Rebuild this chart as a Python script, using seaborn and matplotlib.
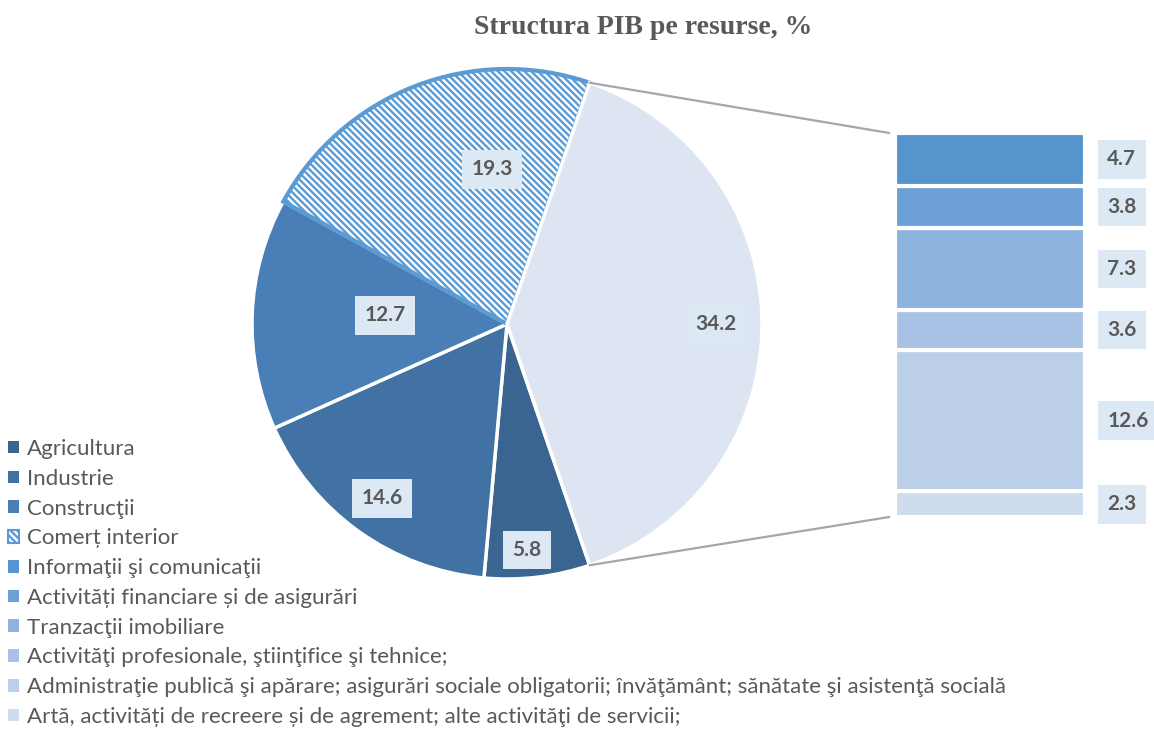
import numpy as np
import matplotlib
matplotlib.use("Agg")
import matplotlib.pyplot as plt
from matplotlib.patches import Patch, ConnectionPatch
import seaborn as sns

# data
pie_labels = ["Agricultura", "Industrie", "Construcţii", "Comerț interior", "Alte"]
pie_values = [5.8, 14.6, 12.7, 19.3, 34.2]
bar_labels = [
    "Informaţii şi comunicaţii",
    "Activități financiare și de asigurări",
    "Tranzacţii imobiliare",
    "Activităţi profesionale, ştiinţifice şi tehnice;",
    "Administraţie publică şi apărare; asigurări sociale obligatorii; învăţământ; sănătate şi asistenţă socială",
    "Artă, activități de recreere și de agrement; alte activităţi de servicii;",
]
bar_values = [4.7, 3.8, 7.3, 3.6, 12.6, 2.3]

pie_colors = ["#3A6590", "#4272A3", "#4A7EB6", "#5B9BD5", "#DEE5F2"]
bar_colors = ["#5594CC", "#6CA0D7", "#8EB3DE", "#A8C1E4", "#BBCFE8", "#CFDCEE"]
hatch_blue = "#5B9BD5"
text_grey = "#595959"
box_fill = "#DDE8F5"
hatch = "\\" * 5

sns.set_theme(style="white")
plt.rcParams["font.family"] = ["Lato", "DejaVu Sans"]
plt.rcParams["hatch.linewidth"] = 1.7
plt.rcParams["hatch.color"] = hatch_blue

W, H = 1154, 729
fig = plt.figure(figsize=(W / 100, H / 100), dpi=100)

# pie
cx, cy, R = 507, 324, 255
ax1 = fig.add_axes([(cx - R) / W, (H - cy - R) / H, 2 * R / W, 2 * R / H])
total = sum(pie_values)
start = -pie_values[-1] / total * 180
wedges, _ = ax1.pie(pie_values, colors=pie_colors, startangle=start, counterclock=False,
                    radius=1, wedgeprops=dict(edgecolor="white", linewidth=2.5))
ax1.set_xlim(-1, 1)
ax1.set_ylim(-1, 1)
ax1.axis("off")

w = wedges[3]
w.set_facecolor("white")
w.set_edgecolor(hatch_blue)
w.set_hatch(hatch)
w.set_linewidth(3)

label_r = [0.89, 0.84, 0.48, 0.61, 0.82]
label_da = [-1.8, 0, -1.7, -15.6, 0]
for wd, v, r, da in zip(wedges, pie_values, label_r, label_da):
    a = np.deg2rad((wd.theta1 + wd.theta2) / 2 + da)
    ax1.text(r * np.cos(a), r * np.sin(a), f"{v:.1f}", ha="center", va="center",
             fontsize=15, fontweight="bold", color=text_grey,
             bbox=dict(boxstyle="square,pad=0.45", fc=box_fill, ec="none"))

# bar of pie
bx0, bx1, by0, by1 = 895, 1085, 133, 517
ax2 = fig.add_axes([bx0 / W, (H - by1) / H, (bx1 - bx0) / W, (by1 - by0) / H])
bar_total = sum(bar_values)
bottom = 0
for v, c in zip(bar_values[::-1], bar_colors[::-1]):
    ax2.bar(0, v, width=1, bottom=bottom, color=c, edgecolor="white", linewidth=3)
    ax2.annotate(f"{v:.1f}", xy=(0.5, bottom + v / 2), xytext=(16, 0),
                 textcoords="offset points", ha="left", va="center",
                 fontsize=15, fontweight="bold", color=text_grey, annotation_clip=False,
                 bbox=dict(boxstyle="square,pad=0.45", fc=box_fill, ec="none"))
    bottom += v
ax2.set_xlim(-0.5, 0.5)
ax2.set_ylim(0, bar_total)
ax2.axis("off")

# connector lines
a_top = np.deg2rad(-start)
for ya, yb in [(np.sin(a_top), bar_total), (-np.sin(a_top), 0)]:
    con = ConnectionPatch(xyA=(np.cos(a_top), ya), coordsA=ax1.transData,
                          xyB=(-0.53, yb), coordsB=ax2.transData,
                          color="#A6A6A6", linewidth=1.6)
    fig.add_artist(con)

# title
fig.text(643 / W, 1 - 27 / H, "Structura PIB pe resurse, %", ha="center", va="center",
         family="Liberation Serif", fontweight="bold", fontsize=20, color=text_grey)

# legend
handles = []
for lab, c in zip(pie_labels[:4], pie_colors[:4]):
    if lab == "Comerț interior":
        handles.append(Patch(facecolor="white", edgecolor=hatch_blue, hatch=hatch, linewidth=1.5))
    else:
        handles.append(Patch(facecolor=c, edgecolor="none"))
for c in bar_colors:
    handles.append(Patch(facecolor=c, edgecolor="none"))
leg = fig.legend(handles, pie_labels[:4] + bar_labels, loc="upper left",
                 bbox_to_anchor=(8 / W, 1 - 439 / H), frameon=False, fontsize=16,
                 handlelength=0.5, handleheight=0.5, handletextpad=0.35,
                 labelspacing=0.44, borderpad=0, borderaxespad=0)
for t in leg.get_texts():
    t.set_color(text_grey)

fig.savefig("out.png", dpi=100)
